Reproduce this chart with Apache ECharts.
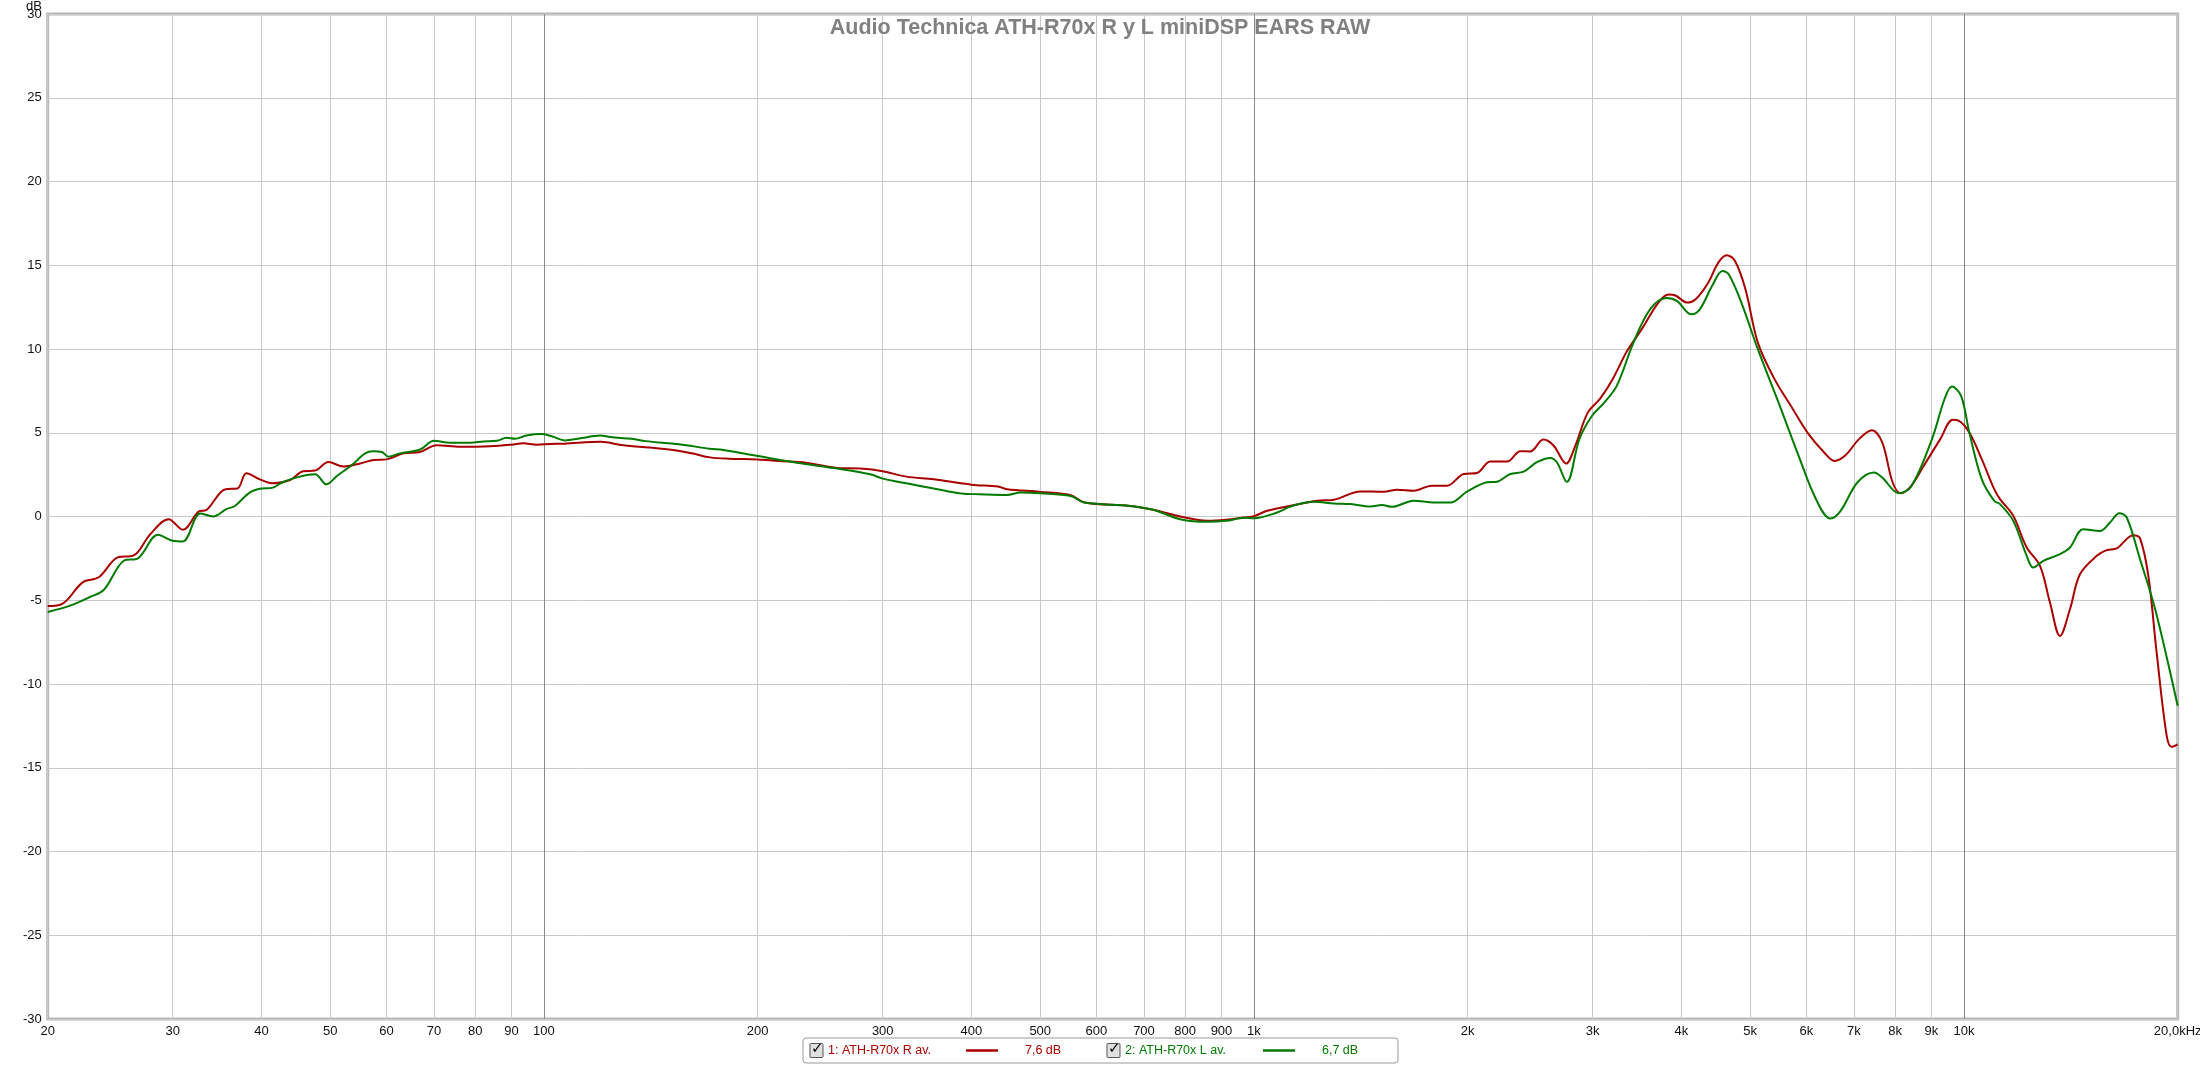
<!DOCTYPE html>
<html>
<head>
<meta charset="utf-8">
<script src="https://cdn.jsdelivr.net/npm/echarts@6/dist/echarts.min.js"></script>
<style>
html,body{margin:0;padding:0;background:#fff;}
#chart{width:2200px;height:1067px;}
</style>
</head>
<body>
<div id="chart"></div>
<script>
const chartTitle = 'Audio Technica ATH-R70x R y L miniDSP EARS RAW';
const yUnit = 'dB';
const xTicks = [20,30,40,50,60,70,80,90,100,200,300,400,500,600,700,800,900,1000,2000,3000,4000,5000,6000,7000,8000,9000,10000,20000];
const yMin = -30, yMax = 30, yStep = 5;

const freqR = [20,21.0,22.4,23.6,25.1,26.4,27.9,29.6,31.0,32.6,33.5,35.6,37.0,38.1,39.8,41.6,43.9,45.8,47.6,49.7,52.2,55.1,57.5,60,63.4,66.9,70.6,76.2,84,90,93.5,97.7,102,106.8,120.2,129.4,150,161.6,171.4,182,200,214,234,259,279,300,324,354,400,436,449,500,552,577,669,721,787,860,913,969,1000,1044,1126,1228,1296,1413,1523,1591,1679,1781,1870,1974,2062,2152,2272,2372,2449,2557,2642,2752,2835,2952,3073,3200,3355,3517,3712,3837,3915,4078,4189,4363,4508,4633,4759,4923,5125,5410,5706,6020,6355,6570,6796,7126,7419,7671,7936,8149,8428,8775,9261,9643,9840,10175,10593,11031,11240,11734,12256,12796,13217,13653,14102,14567,15381,15886,16410,17318,17700,18184,18681,19300,19612,20000];
const dbR = [-5.35,-5.2,-3.93,-3.63,-2.44,-2.34,-1.05,-0.16,-0.79,0.28,0.4,1.63,1.67,2.58,2.22,1.98,2.18,2.7,2.74,3.25,2.98,3.17,3.37,3.41,3.77,3.85,4.25,4.17,4.2,4.29,4.37,4.29,4.33,4.35,4.46,4.25,4.0,3.77,3.53,3.45,3.41,3.31,3.21,2.9,2.86,2.7,2.38,2.22,1.9,1.79,1.63,1.47,1.27,0.83,0.63,0.4,0.0,-0.26,-0.2,-0.06,0.02,0.34,0.64,0.94,1.0,1.5,1.48,1.6,1.54,1.84,1.84,2.54,2.6,3.28,3.28,3.9,3.88,4.6,4.24,3.16,4.22,6.2,7.04,8.2,9.89,11.18,12.77,13.25,13.21,12.77,12.97,13.96,15.16,15.6,15.26,13.57,10.38,8.2,6.6,5.01,3.82,3.32,3.62,4.65,5.15,4.42,2.03,1.39,1.83,3.02,4.62,5.77,5.71,5.01,3.42,1.63,1.04,0.04,-1.85,-2.95,-5.14,-7.13,-5.54,-3.45,-2.35,-2.01,-1.91,-1.12,-1.31,-3.55,-8.13,-13.1,-13.75,-13.6];

const freqL = [20,21.5,22.9,24.0,25.6,26.8,28.6,30.0,31.0,32.8,34.2,35.7,36.7,38.5,40,41.4,42.9,45.3,47.6,49.4,51.1,53.6,56.0,57.5,59.1,60.4,62.7,66.9,70,73.7,78.7,82.2,85.8,88.6,91,94.5,99.4,103,107,113,120,124,133,139,155,171,179,200,227,259,288,300,324,354,387,410,449,469,500,552,577,669,721,787,860,913,969,1000,1078,1126,1214,1296,1368,1459,1515,1565,1679,1791,1891,1995,2129,2199,2296,2398,2503,2614,2671,2758,2873,2992,3114,3243,3424,3613,3811,3941,4131,4246,4419,4570,4663,4858,5125,5481,5862,6189,6483,6704,7076,7468,7671,8094,8428,9015,9387,9616,9907,10175,10593,11031,11240,11734,12256,12524,12936,13653,14102,14723,15544,16058,16550,16955,17700,18482,19089,20000];
const dbL = [-5.7,-5.32,-4.82,-4.37,-2.64,-2.5,-1.09,-1.45,-1.49,0.18,0.0,0.44,0.63,1.43,1.67,1.71,2.06,2.38,2.52,1.92,2.42,3.06,3.77,3.89,3.85,3.57,3.77,4.0,4.52,4.4,4.4,4.48,4.52,4.7,4.64,4.84,4.92,4.76,4.54,4.68,4.84,4.74,4.64,4.5,4.31,4.05,3.97,3.61,3.21,2.86,2.52,2.26,1.98,1.67,1.37,1.33,1.29,1.43,1.39,1.23,0.83,0.63,0.4,-0.16,-0.32,-0.26,-0.08,-0.1,0.24,0.6,0.88,0.78,0.74,0.6,0.68,0.58,0.94,0.84,0.84,1.48,2.04,2.08,2.54,2.68,3.24,3.5,3.24,2.07,4.62,6.0,6.8,7.8,10.38,12.37,13.05,12.87,12.07,12.37,13.77,14.66,14.46,12.77,9.99,6.8,3.52,1.03,-0.12,0.34,2.03,2.63,2.33,1.39,1.79,4.62,7.0,7.76,7.2,5.01,2.23,0.93,0.74,-0.26,-2.35,-3.05,-2.65,-2.25,-1.85,-0.76,-0.86,-0.36,0.2,-0.06,-2.55,-5.14,-7.53,-11.3];

const legendItems = [
  {label: '1: ATH-R70x R av.', value: '7,6 dB'},
  {label: '2: ATH-R70x L av.', value: '6,7 dB'}
];

const redColor = '#a80000';
const greenColor = '#007a00';
const FONT = '"Liberation Sans", Arial, sans-serif';

function fmtFreq(v) {
  if (v >= 20000) return '20,0kHz';
  if (v >= 1000) return (v / 1000) + 'k';
  return String(v);
}

const chart = echarts.init(document.getElementById('chart'), null, {renderer: 'canvas'});

const gridLight = '#c8c8c8';
const gridDark = '#8a8a8a';

const extraGraphic = [];
extraGraphic.push({type: 'text', x: 42, y: 0, style: {text: yUnit, fill: '#111', font: '13px ' + FONT, textAlign: 'right', textVerticalAlign: 'top'}, z: 100});
const lgLeft = 803, lgTop = 1038, lgW = 595, lgH = 25, lgMid = lgTop + lgH / 2;
extraGraphic.push({type: 'rect', shape: {x: lgLeft, y: lgTop, width: lgW, height: lgH, r: 3}, style: {fill: '#fff', stroke: '#9a9a9a', lineWidth: 1}, z: 100});
const itemOffsets = [0, 297];
const itemColors = [redColor, greenColor];
legendItems.forEach((it, i) => {
  const ox = lgLeft + itemOffsets[i];
  extraGraphic.push({type: 'rect', shape: {x: ox + 7, y: lgMid - 7, width: 13, height: 14, r: 1}, style: {fill: '#e0e0e0', stroke: '#555', lineWidth: 1}, z: 101});
  extraGraphic.push({type: 'text', x: ox + 8, y: lgMid - 9, style: {text: '✓', fill: '#000', font: 'bold 15px "DejaVu Sans"'}, z: 102});
  extraGraphic.push({type: 'text', x: ox + 25, y: lgMid, style: {text: it.label, fill: itemColors[i], font: '12.5px ' + FONT, verticalAlign: 'middle'}, z: 102});
  extraGraphic.push({type: 'line', shape: {x1: ox + 163, y1: lgMid, x2: ox + 195, y2: lgMid}, style: {stroke: itemColors[i], lineWidth: 2.5}, z: 102});
  extraGraphic.push({type: 'text', x: ox + 222, y: lgMid, style: {text: it.value, fill: itemColors[i], font: '12.5px ' + FONT, verticalAlign: 'middle'}, z: 102});
});

const option = {
  backgroundColor: '#ffffff',
  animation: false,
  title: {
    text: chartTitle,
    left: 'center',
    top: 12,
    textStyle: {fontFamily: FONT, fontWeight: 'bold', fontSize: 21.5, color: '#808080'}
  },
  grid: {
    left: 47.7, right: 22.3, top: 14, bottom: 48,
    containLabel: false,
    outerBoundsMode: 'none',
    show: true,
    borderColor: '#b8b8b8',
    borderWidth: 3,
    backgroundColor: 'transparent'
  },
  xAxis: {
    type: 'log',
    logBase: 10,
    min: 20,
    max: 20000,
    axisLine: {show: false},
    axisTick: {show: false, customValues: xTicks},
    axisLabel: {
      customValues: xTicks,
      formatter: fmtFreq,
      fontFamily: FONT,
      fontSize: 13,
      color: '#111',
      margin: 6,
      showMinLabel: true,
      showMaxLabel: true,
      hideOverlap: false
    },
    splitLine: {
      show: true,
      showMinLine: true,
      showMaxLine: true,
      lineStyle: {color: [gridLight, gridLight, gridLight, gridLight, gridLight, gridLight, gridLight, gridLight, gridDark], width: 1}
    }
  },
  yAxis: {
    type: 'value',
    min: yMin,
    max: yMax,
    interval: yStep,
    axisLine: {show: false},
    axisTick: {show: false},
    axisLabel: {fontFamily: FONT, fontSize: 13, color: '#111', margin: 6},
    splitLine: {show: true, lineStyle: {color: gridLight, width: 1}}
  },
  series: [
    {
      name: legendItems[0].label,
      type: 'line',
      data: freqR.map((f, i) => [f, dbR[i]]),
      showSymbol: false,
      smooth: 0.35,
      lineStyle: {color: redColor, width: 2},
      itemStyle: {color: redColor},
      z: 3
    },
    {
      name: legendItems[1].label,
      type: 'line',
      data: freqL.map((f, i) => [f, dbL[i]]),
      showSymbol: false,
      smooth: 0.35,
      lineStyle: {color: greenColor, width: 2},
      itemStyle: {color: greenColor},
      z: 4
    }
  ],
  graphic: extraGraphic
};

chart.setOption(option);
</script>
</body>
</html>
